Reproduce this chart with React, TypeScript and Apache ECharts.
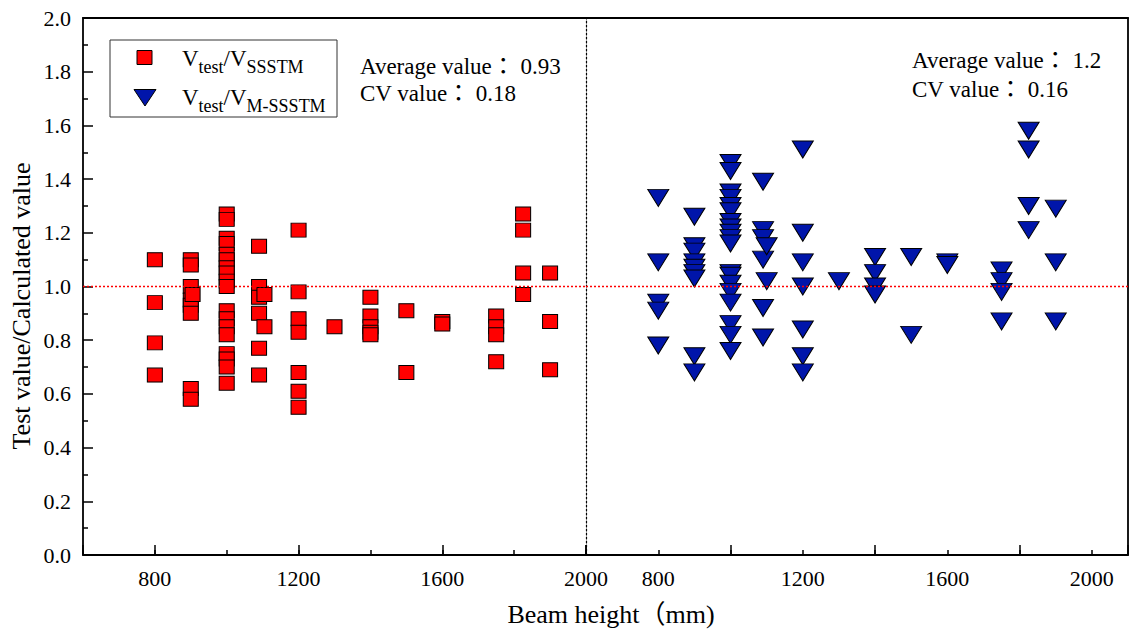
import React, { useEffect, useRef } from 'react';
import * as echarts from 'echarts';

const SERIF = 'Liberation Serif';
const SERIF_CJK = "Liberation Serif, Noto Sans CJK JP";

// V_test / V_SSSTM  (red squares, left panel)
const ssstmHeights = [800, 900, 905, 1000, 1090, 1105, 1200, 1300, 1400, 1500, 1600, 1750, 1825, 1900];
const ssstmRatios = [
  [1.10, 0.94, 0.79, 0.67],
  [1.10, 1.08, 1.00, 0.95, 0.93, 0.90, 0.62, 0.58],
  [0.97],
  [1.27, 1.25, 1.18, 1.16, 1.12, 1.10, 1.07, 1.05, 1.02, 1.00, 0.91, 0.88, 0.85, 0.82, 0.75, 0.73, 0.70, 0.64],
  [1.15, 1.00, 0.96, 0.90, 0.77, 0.67],
  [0.97, 0.85],
  [1.21, 0.98, 0.88, 0.83, 0.68, 0.61, 0.55],
  [0.85],
  [0.96, 0.89, 0.85, 0.83, 0.82],
  [0.91, 0.68],
  [0.87, 0.86],
  [0.89, 0.85, 0.82, 0.72],
  [1.27, 1.21, 1.05, 0.97],
  [1.05, 0.87, 0.69],
];

// V_test / V_M-SSSTM  (blue triangles, right panel)
const mssstmHeights = [800, 900, 1000, 1090, 1100, 1200, 1300, 1400, 1500, 1600, 1750, 1825, 1900];
const mssstmRatios = [
  [1.33, 1.09, 0.94, 0.91, 0.78],
  [1.26, 1.15, 1.13, 1.09, 1.07, 1.05, 1.03, 0.74, 0.68],
  [1.46, 1.43, 1.35, 1.33, 1.30, 1.28, 1.24, 1.22, 1.20, 1.18, 1.16, 1.05, 1.04, 1.01, 0.98, 0.94, 0.86, 0.82, 0.76],
  [1.39, 1.21, 1.18, 1.10, 0.92, 0.81],
  [1.15, 1.02],
  [1.51, 1.20, 1.09, 1.00, 0.84, 0.74, 0.68],
  [1.02],
  [1.11, 1.05, 1.00, 0.97],
  [1.11, 0.82],
  [1.09, 1.08],
  [1.06, 1.02, 0.98, 0.87],
  [1.58, 1.51, 1.30, 1.21],
  [1.29, 1.09, 0.87],
];

const leftStats = ['Average value： 0.93', 'CV value： 0.18'];
const rightStats = ['Average value： 1.2', 'CV value： 0.16'];
const xTitle = 'Beam height（mm)';
const yTitle = 'Test value/Calculated value';
const referenceRatio = 1.0;

function toPoints(heights: number[], ratios: number[][]) {
  const out: [number, number][] = [];
  heights.forEach((h, i) => ratios[i].forEach((r) => out.push([h, r])));
  return out;
}

const BLACK = '#000';
const axisLineStyle = { color: BLACK, width: 1.8 };
const tickLineStyle = { color: BLACK, width: 1.5 };
const labelStyle = { fontSize: 22, fontFamily: SERIF, color: BLACK };

function textEl(text: string, x: number, y: number, size: number, extra: any = {}) {
  return {
    type: 'text',
    x,
    y,
    ...extra,
    style: {
      text,
      fontSize: size,
      fontFamily: SERIF_CJK,
      fill: BLACK,
      align: extra.align || 'left',
      verticalAlign: 'middle',
      textAlign: extra.align || 'left',
      textVerticalAlign: 'middle',
    },
  };
}

function legendText(sub: string, y: number) {
  return {
    type: 'text',
    x: 182,
    y,
    style: {
      text: `{m|V}{s|test}{m|/V}{s|${sub}}`,
      align: 'left',
      verticalAlign: 'top',
      textAlign: 'left',
      textVerticalAlign: 'top',
      fill: BLACK,
      fontFamily: SERIF,
      rich: {
        m: { fontSize: 23, fontFamily: SERIF, fill: BLACK, color: BLACK, lineHeight: 24, verticalAlign: 'top' },
        s: { fontSize: 18, fontFamily: SERIF, fill: BLACK, color: BLACK, verticalAlign: 'top', padding: [11, 0, 0, 0] },
      },
    },
  };
}

export default function App() {
  const ref = useRef<HTMLDivElement>(null);

  useEffect(() => {
    document.body.style.margin = '0';
    if (!ref.current) return;
    const chart = echarts.init(ref.current, undefined, { renderer: 'svg' });

    const mark = {
      silent: true,
      symbol: ['none', 'none'],
      label: { show: false },
      lineStyle: { color: '#ff0000', type: [2, 2], width: 1.3, opacity: 1 },
      data: [{ yAxis: referenceRatio }],
    };

    const option: any = {
      animation: false,
      backgroundColor: '#ffffff',
      textStyle: { fontFamily: SERIF },
      grid: [
        { left: 83, top: 18, width: 503, height: 537 },
        { left: 586, top: 18, width: 542, height: 537 },
      ],
      xAxis: [
        {
          gridIndex: 0, type: 'value', position: 'bottom', min: 600, max: 2000, interval: 200,
          axisLine: { show: true, onZero: false, lineStyle: axisLineStyle },
          axisTick: { show: true, inside: true, length: 5, lineStyle: tickLineStyle },
          axisLabel: { ...labelStyle, margin: 12, formatter: (v: number) => (v % 400 === 0 ? String(v) : '') },
          splitLine: { show: false },
        },
        {
          gridIndex: 0, type: 'value', position: 'bottom', inverse: true, min: 0, max: 1400, interval: 400,
          axisLine: { show: false, onZero: false },
          axisTick: { show: true, inside: true, length: 10, lineStyle: tickLineStyle },
          axisLabel: { show: false },
          splitLine: { show: false },
        },
        {
          gridIndex: 0, type: 'value', position: 'top', min: 600, max: 2000,
          axisLine: { show: true, onZero: false, lineStyle: axisLineStyle },
          axisTick: { show: false }, axisLabel: { show: false }, splitLine: { show: false },
        },
        {
          gridIndex: 1, type: 'value', position: 'bottom', min: 600, max: 2100, interval: 200,
          axisLine: { show: true, onZero: false, lineStyle: axisLineStyle },
          axisTick: { show: true, inside: true, length: 5, lineStyle: tickLineStyle },
          axisLabel: { ...labelStyle, margin: 12, formatter: (v: number) => (v % 400 === 0 && v !== 600 ? String(v) : '') },
          splitLine: { show: false },
        },
        {
          gridIndex: 1, type: 'value', position: 'bottom', min: 600, max: 2100, interval: 400,
          axisLine: { show: false, onZero: false },
          axisTick: { show: true, inside: true, length: 10, lineStyle: tickLineStyle },
          axisLabel: { show: false },
          splitLine: { show: false },
        },
        {
          gridIndex: 1, type: 'value', position: 'top', min: 600, max: 2100,
          axisLine: { show: true, onZero: false, lineStyle: axisLineStyle },
          axisTick: { show: false }, axisLabel: { show: false }, splitLine: { show: false },
        },
      ],
      yAxis: [
        {
          gridIndex: 0, type: 'value', position: 'left', min: 0, max: 2, interval: 0.2,
          axisLine: { show: true, onZero: false, lineStyle: axisLineStyle },
          axisTick: { show: true, inside: true, length: 10, lineStyle: tickLineStyle },
          minorTick: { show: true, splitNumber: 2, length: 5, lineStyle: tickLineStyle },
          axisLabel: { ...labelStyle, margin: 12, formatter: (v: number) => v.toFixed(1) },
          splitLine: { show: false }, minorSplitLine: { show: false },
        },
        {
          gridIndex: 1, type: 'value', position: 'left', min: 0, max: 2,
          axisLine: { show: true, onZero: false, lineStyle: { color: BLACK, width: 1.2, type: [2, 2] } },
          axisTick: { show: false }, axisLabel: { show: false }, splitLine: { show: false },
        },
        {
          gridIndex: 1, type: 'value', position: 'right', min: 0, max: 2,
          axisLine: { show: true, onZero: false, lineStyle: axisLineStyle },
          axisTick: { show: false }, axisLabel: { show: false }, splitLine: { show: false },
        },
      ],
      series: [
        {
          type: 'scatter', name: 'SSSTM', xAxisIndex: 0, yAxisIndex: 0,
          data: toPoints(ssstmHeights, ssstmRatios),
          symbol: 'rect', symbolSize: [15, 14],
          itemStyle: { color: '#ff0000', borderColor: BLACK, borderWidth: 1, opacity: 1 },
          markLine: mark,
        },
        {
          type: 'scatter', name: 'M-SSSTM', xAxisIndex: 3, yAxisIndex: 1,
          data: toPoints(mssstmHeights, mssstmRatios),
          symbol: 'triangle', symbolRotate: 180, symbolSize: [21, 17],
          itemStyle: { color: '#0015aa', borderColor: BLACK, borderWidth: 1, opacity: 1 },
          markLine: mark,
        },
      ],
      graphic: [
        {
          type: 'rect', shape: { x: 110, y: 40, width: 227, height: 77 },
          style: { fill: 'rgba(0,0,0,0)', stroke: '#333', lineWidth: 1 },
        },
        {
          type: 'rect', shape: { x: 137, y: 50.5, width: 15, height: 14 },
          style: { fill: '#ff0000', stroke: BLACK, lineWidth: 1 },
        },
        {
          type: 'polygon', shape: { points: [[134, 89.5], [156, 89.5], [145, 106]] },
          style: { fill: '#0015aa', stroke: BLACK, lineWidth: 1 },
        },
        legendText('SSSTM', 47),
        legendText('M-SSSTM', 86),
        textEl(leftStats[0], 360, 66, 23),
        textEl(leftStats[1], 360, 93, 23),
        textEl(rightStats[0], 912, 60.5, 23),
        textEl(rightStats[1], 912, 89, 23),
        textEl(xTitle, 611, 614, 26, { align: 'center' }),
        textEl(yTitle, 21, 306, 26, { align: 'center', rotation: Math.PI / 2 }),
      ],
    };

    chart.setOption(option);
    return () => chart.dispose();
  }, []);

  return <div ref={ref} style={{ width: 1134, height: 638 }} />;
}
